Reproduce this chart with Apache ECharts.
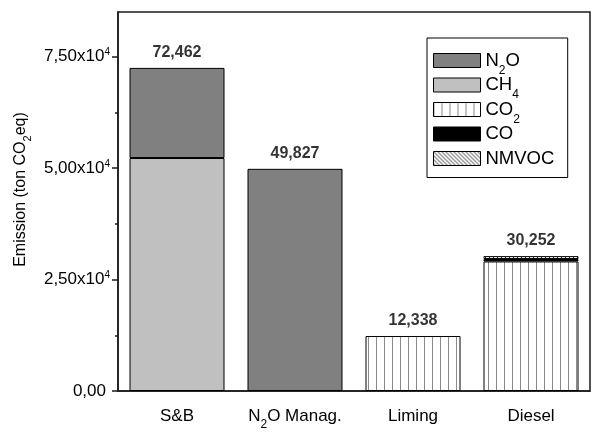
<!DOCTYPE html>
<html><head><meta charset="utf-8">
<script src="https://cdn.jsdelivr.net/npm/echarts@6/dist/echarts.min.js"></script>
<style>html,body{margin:0;padding:0;background:#fff}#c{width:600px;height:433px}</style>
</head><body><div id="c"></div>
<script>
const categories = ['S&B', 'N2O Manag.', 'Liming', 'Diesel'];
const ch4 = [52250, null, null, null];
const n2o = [20212, 49827, null, null];
const co2 = [null, null, 12338, 29050];
const co = [null, null, null, 550];
const nmvoc = [null, null, null, 652];
const totals = [72462, 49827, 12338, 30252];
const legendNames = ['N2O', 'CH4', 'CO2', 'CO', 'NMVOC'];
const yMajorTicks = [0, 25000, 50000, 75000];
const yTickLabels = ['0,00', '2,50x10', '5,00x10', '7,50x10'];
const yTickExp = ['', '4', '4', '4'];
const yMinorTicks = [12500, 37500, 62500];
const yMin = 0, yMax = 85000;
const yName = 'Emission (ton CO2eq)';

const F = '"Liberation Sans", Arial, Helvetica, sans-serif';
const AX = '#1a1a1a';

function sub(t) { return '{m|' + t.replace(/(\d)/g, '}{s|$1}{m|') + '}'; }
function subLegend(t) { return /\d/.test(t) ? t.replace(/(\d)/g, '{s|$1}') : t + '{s| }'; }

function stripePattern() {
  const c = document.createElement('canvas'); c.width = 8; c.height = 8;
  const g = c.getContext('2d');
  g.fillStyle = '#fff'; g.fillRect(0, 0, 8, 8);
  g.fillStyle = '#8a8a8a'; g.fillRect(0, 0, 1, 8);
  return { image: c, repeat: 'repeat' };
}
function hatchPattern() {
  const c = document.createElement('canvas'); c.width = 4; c.height = 4;
  const g = c.getContext('2d');
  g.fillStyle = '#fff'; g.fillRect(0, 0, 4, 4);
  g.fillStyle = '#333';
  for (let i = 0; i < 4; i++) g.fillRect(i, i, 1, 1);
  return { image: c, repeat: 'repeat' };
}

const border = { borderColor: '#000', borderWidth: 1 };
const chart = echarts.init(document.getElementById('c'), null, { renderer: 'canvas' });
chart.setOption({
  animation: false,
  backgroundColor: '#fff',
  grid: { left: 118, top: 12, right: 10, bottom: 42, containLabel: false, outerBoundsMode: 'none',
          show: true, borderColor: AX, borderWidth: 1.5 },
  legend: {
    data: legendNames, orient: 'vertical', left: 427, top: 38,
    itemWidth: 47, itemHeight: 14, itemGap: -1, padding: [13, 10, 3, 6],
    borderColor: '#000', borderWidth: 1, selectedMode: false, icon: 'rect',
    itemStyle: { borderColor: '#000', borderWidth: 1 },
    formatter: n => subLegend(n),
    textStyle: { fontSize: 18.5, lineHeight: 14, fontFamily: F, color: '#000', rich: {
      s: { fontSize: 12, lineHeight: 12, verticalAlign: 'bottom', padding: [0, 0, -9, 0], fontFamily: F, color: '#000' }
    } }
  },
  xAxis: {
    type: 'category', data: categories,
    axisLine: { lineStyle: { color: AX, width: 1.5 } },
    axisTick: { alignWithLabel: true, interval: 0, length: 6, lineStyle: { color: AX, width: 1.5 } },
    axisLabel: { margin: 11, interval: 0, hideOverlap: false, formatter: v => sub(v), rich: {
      m: { fontSize: 17, lineHeight: 29, fontFamily: F, color: '#000' },
      s: { fontSize: 12, lineHeight: 12, verticalAlign: 'bottom', fontFamily: F, color: '#000' }
    } },
    splitLine: { show: false }
  },
  yAxis: [{
    type: 'value', min: yMin, max: yMax,
    name: sub(yName), nameLocation: 'middle', nameGap: 80,
    nameTextStyle: { padding: [0, 0, 0, 24], rich: {
      m: { fontSize: 16, lineHeight: 25, fontFamily: F, color: '#000' },
      s: { fontSize: 11, lineHeight: 11, verticalAlign: 'bottom', fontFamily: F, color: '#000' }
    } },
    axisLine: { show: true, lineStyle: { color: AX, width: 1.5 } },
    axisTick: { show: true, length: 6, customValues: yMajorTicks, lineStyle: { color: AX, width: 1.5 } },
    axisLabel: {
      margin: 8, customValues: yMajorTicks,
      formatter: v => {
        const i = yMajorTicks.indexOf(v);
        if (i < 0) return '';
        return yTickExp[i] ? '{m|' + yTickLabels[i] + '}{e|' + yTickExp[i] + '}' : '{m|' + yTickLabels[i] + '}{g| }';
      },
      rich: {
        m: { fontSize: 17, lineHeight: 18, fontFamily: F, color: '#000' },
        e: { fontSize: 10, lineHeight: 10, verticalAlign: 'top', fontFamily: F, color: '#000' },
        g: { fontSize: 10, width: 4 }
      }
    },
    splitLine: { show: false }
  }, {
    type: 'value', min: yMin, max: yMax, position: 'left',
    axisLine: { show: false },
    axisTick: { show: true, length: 3, customValues: yMinorTicks, lineStyle: { color: AX, width: 1.5 } },
    axisLabel: { show: false },
    splitLine: { show: false }
  }],
  series: [
    { name: 'CH4', type: 'bar', stack: 't', data: ch4, barWidth: 95, itemStyle: Object.assign({ color: '#c0c0c0' }, border) },
    { name: 'N2O', type: 'bar', stack: 't', data: n2o, barWidth: 95, itemStyle: Object.assign({ color: '#808080' }, border) },
    { name: 'CO2', type: 'bar', stack: 't', data: co2, barWidth: 95, itemStyle: Object.assign({ color: stripePattern() }, border) },
    { name: 'CO', type: 'bar', stack: 't', data: co, barWidth: 95, itemStyle: Object.assign({ color: '#000' }, border) },
    { name: 'NMVOC', type: 'bar', stack: 't', data: nmvoc, barWidth: 95, itemStyle: Object.assign({ color: hatchPattern() }, border) },
    { name: 'totals', type: 'scatter', data: totals, symbolSize: 1, silent: true, z: 10,
      itemStyle: { color: 'rgba(0,0,0,0)' },
      label: { show: true, position: 'top', distance: 7, color: '#000', fontFamily: F, fontSize: 16, fontWeight: 'bold',
               formatter: p => p.value.toLocaleString('en-US') } }
  ]
});
</script></body></html>
